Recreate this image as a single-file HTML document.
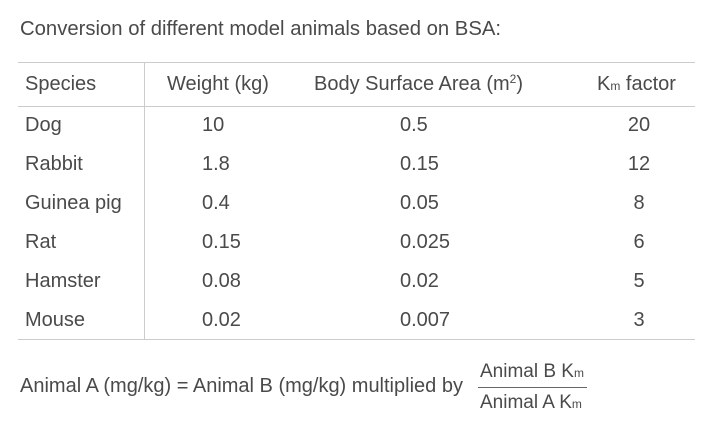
<!DOCTYPE html>
<html><head><style>
body{margin:0;width:720px;height:431px;background:#fff;font-family:"Liberation Sans",sans-serif;color:#4a4a4a;position:relative;overflow:hidden}
div{position:absolute;white-space:nowrap;font-size:20px;line-height:22px}
.h{position:absolute;height:1px;background:#ccc;left:18px;width:677px}
.c{text-align:center;width:60px}
sub{font-size:12px;vertical-align:baseline;line-height:0}
sup{font-size:12px;line-height:0;vertical-align:7px}
</style></head><body>
<div style="left:20px;top:18px;font-size:20.3px">Conversion of different model animals based on BSA:</div>
<span class="h" style="top:62px"></span>
<span class="h" style="top:106px"></span>
<span class="h" style="top:339px"></span>
<span style="position:absolute;left:144px;top:62px;width:1px;height:277px;background:#ccc"></span>
<div style="left:25px;top:73px">Species</div>
<div style="left:167px;top:73px">Weight (kg)</div>
<div style="left:314px;top:73px">Body Surface Area (m<sup>2</sup>)</div>
<div style="left:597px;top:73px">K<sub>m</sub> factor</div>

<div style="left:25px;top:114px">Dog</div><div style="left:202px;top:114px">10</div><div style="left:400px;top:114px">0.5</div><div class="c" style="left:609px;top:114px">20</div>
<div style="left:25px;top:153px">Rabbit</div><div style="left:202px;top:153px">1.8</div><div style="left:400px;top:153px">0.15</div><div class="c" style="left:609px;top:153px">12</div>
<div style="left:25px;top:192px">Guinea pig</div><div style="left:202px;top:192px">0.4</div><div style="left:400px;top:192px">0.05</div><div class="c" style="left:609px;top:192px">8</div>
<div style="left:25px;top:231px">Rat</div><div style="left:202px;top:231px">0.15</div><div style="left:400px;top:231px">0.025</div><div class="c" style="left:609px;top:231px">6</div>
<div style="left:25px;top:270px">Hamster</div><div style="left:202px;top:270px">0.08</div><div style="left:400px;top:270px">0.02</div><div class="c" style="left:609px;top:270px">5</div>
<div style="left:25px;top:309px">Mouse</div><div style="left:202px;top:309px">0.02</div><div style="left:400px;top:309px">0.007</div><div class="c" style="left:609px;top:309px">3</div>

<div style="left:20px;top:375px;font-size:20px">Animal A (mg/kg) = Animal B (mg/kg) multiplied by</div>
<div style="left:480px;top:361px;font-size:19px">Animal B K<sub>m</sub></div>
<span style="position:absolute;left:478px;top:387px;width:109px;height:1px;background:#666"></span>
<div style="left:480px;top:392px;font-size:19px">Animal A K<sub>m</sub></div>
</body></html>
